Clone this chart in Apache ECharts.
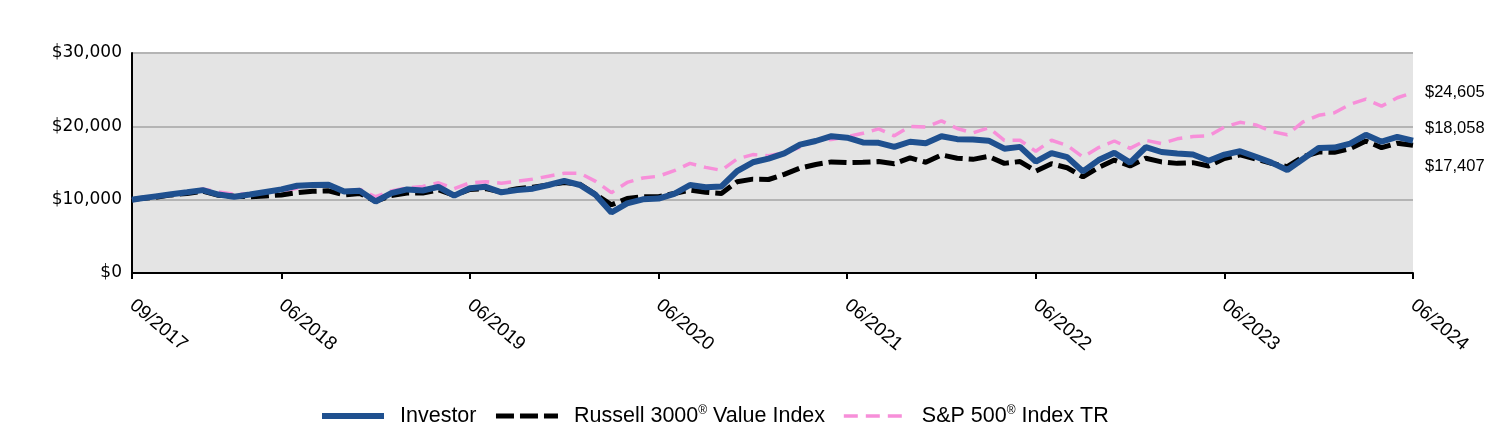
<!DOCTYPE html>
<html>
<head>
<meta charset="utf-8">
<title>Growth of $10,000</title>
<script src="https://cdn.jsdelivr.net/npm/echarts@6/dist/echarts.min.js"></script>
<style>
  html, body { margin: 0; padding: 0; background: #fff; }
  #chart { width: 1512px; height: 432px; }
</style>
</head>
<body>
<div id="chart"></div>
<script>
// first point is the start date (mid 09/2017), then one point per month end 09/2017 .. 06/2024
var tickMonths = [0, 9.5, 21.5, 33.5, 45.5, 57.5, 69.5, 81.5]
var tickLabels = ['09/2017', '06/2018', '06/2019', '06/2020', '06/2021', '06/2022', '06/2023', '06/2024']

var investor = [10000,
    10150, 10450, 10750, 11000,
    11300, 10700, 10400, 10700, 11050, 11400, 11900, 12000, 12050, 11100, 11200, 9750,
    10900, 11400, 11250, 11750, 10550, 11550, 11750, 11000, 11300, 11500, 12000, 12550,
    12000, 10650, 8250, 9500, 10050, 10150, 10800, 12000, 11700, 11800, 13900, 15100,
    15600, 16300, 17500, 18000, 18650, 18450, 17800, 17750, 17200, 17900, 17700, 18650,
    18250, 18200, 18050, 16950, 17200, 15200, 16350, 15800, 13850, 15400, 16400, 15050,
    17150, 16500, 16300, 16150, 15300, 16150, 16600, 15850, 15050, 14050, 15550, 17050,
    17100, 17650, 18850, 17900, 18550, 18058]

var russell = [10000,
    10150, 10330, 10650, 10850,
    11150, 10600, 10450, 10400, 10500, 10650, 10950, 11150, 11200, 10650, 10850, 9800,
    10550, 10900, 10900, 11350, 10600, 11400, 11500, 11050, 11500, 11700, 12000, 12350,
    12100, 10700, 9300, 10150, 10400, 10400, 10850, 11300, 11000, 10850, 12450, 12800,
    12750, 13450, 14300, 14800, 15150, 15050, 15100, 15200, 14900, 15700, 15100, 16100,
    15650, 15500, 15900, 14950, 15200, 13900, 14900, 14350, 13100, 14400, 15400, 14600,
    15650, 15150, 14950, 15050, 14600, 15600, 16100, 15550, 14950, 14500, 15850, 16500,
    16450, 16950, 18000, 17100, 17700, 17407]

var sp500 = [10000,
    10200, 10450, 10750, 10880,
    11450, 11050, 10750, 10800, 11050, 11150, 11550, 11950, 12000, 11200, 11400, 10400,
    11200, 11600, 11800, 12300, 11500, 12300, 12450, 12250, 12500, 12800, 13200, 13600,
    13600, 12500, 10950, 12350, 12950, 13200, 13950, 14950, 14400, 14000, 15550, 16150,
    16000, 16400, 17150, 18050, 18200, 18600, 19050, 19650, 18700, 20000, 19900, 20750,
    19700, 19100, 19800, 18100, 18100, 16600, 18100, 17400, 15800, 17100, 18000, 17000,
    18100, 17650, 18300, 18600, 18700, 19900, 20550, 20200, 19300, 18850, 20600, 21500,
    21850, 23000, 23700, 22750, 23900, 24605]

var seriesNames = ['Investor', 'Russell 3000® Value Index', 'S&P 500® Index TR']

// x position in months after the start date
function monthPos(i) {
    return i === 0 ? 0 : i - 0.5
}
function toPoints(arr) {
    return arr.map(function (v, i) { return [monthPos(i), v] })
}
function money(v) {
    return '$' + Number(v).toLocaleString('en-US')
}
function endLabel(dy) {
    return {
        show: true,
        distance: 12,
        offset: [0, dy],
        fontSize: 16.5,
        color: '#000',
        fontFamily: 'Liberation Sans',
        formatter: function (p) { return money(p.value[1]) }
    }
}

var chart = echarts.init(document.getElementById('chart'))
var options = {
    animation: false,
    textStyle: { fontFamily: 'Liberation Sans' },
    grid: {
        left: 132,
        right: 99,
        top: 53,
        bottom: 159,
        show: true,
        backgroundColor: '#e4e4e4',
        borderWidth: 0,
        outerBoundsMode: 'none'
    },
    legend: {
        data: seriesNames,
        left: 319,
        top: 405,
        padding: 0,
        itemWidth: 62,
        itemHeight: 14,
        itemGap: 17,
        lineStyle: { width: 'inherit', type: 'inherit' },
        itemStyle: { opacity: 0 },
        formatter: function (name) {
            return name.replace('®', '{sup|®}')
        },
        textStyle: {
            fontSize: 21.5,
            color: '#000',
            fontFamily: 'Liberation Sans',
            padding: [0, 0, 0, 11],
            rich: {
                sup: { fontSize: 12, verticalAlign: 'top', fontFamily: 'Liberation Sans', color: '#000' }
            }
        }
    },
    xAxis: {
        type: 'value',
        min: 0,
        max: tickMonths[tickMonths.length - 1],
        splitLine: { show: false },
        axisLine: { lineStyle: { color: '#000', width: 2 } },
        axisTick: {
            show: true,
            length: 6,
            customValues: tickMonths,
            lineStyle: { color: '#000', width: 2 }
        },
        axisLabel: {
            customValues: tickMonths,
            rotate: -40,
            margin: 30,
            fontSize: 19,
            color: '#000',
            fontFamily: 'Liberation Sans',
            formatter: function (v) {
                var i = tickMonths.indexOf(v)
                return i >= 0 ? tickLabels[i] : ''
            }
        }
    },
    yAxis: {
        type: 'value',
        min: 0,
        max: 30000,
        interval: 10000,
        axisLine: { show: true, lineStyle: { color: '#000', width: 2 } },
        axisTick: { show: false },
        splitLine: { lineStyle: { color: '#b4b4b4', width: 2 } },
        axisLabel: {
            margin: 10,
            fontSize: 17,
            color: '#000',
            fontFamily: 'DejaVu Sans',
            formatter: money
        }
    },
    series: [
        {
            name: seriesNames[2],
            type: 'line',
            data: toPoints(sp500),
            symbol: 'none',
            z: 2,
            lineStyle: { color: '#f78fd9', width: 3.5, type: [14, 8] },
            itemStyle: { color: '#f78fd9' },
            endLabel: endLabel(0)
        },
        {
            name: seriesNames[1],
            type: 'line',
            data: toPoints(russell),
            symbol: 'none',
            z: 3,
            lineStyle: { color: '#000', width: 5, type: [18, 6] },
            itemStyle: { color: '#000' },
            endLabel: endLabel(21)
        },
        {
            name: seriesNames[0],
            type: 'line',
            data: toPoints(investor),
            symbol: 'none',
            z: 4,
            lineStyle: { color: '#1f508f', width: 6 },
            itemStyle: { color: '#1f508f' },
            endLabel: endLabel(-12)
        }
    ]
}
chart.setOption(options)
</script>
</body>
</html>
